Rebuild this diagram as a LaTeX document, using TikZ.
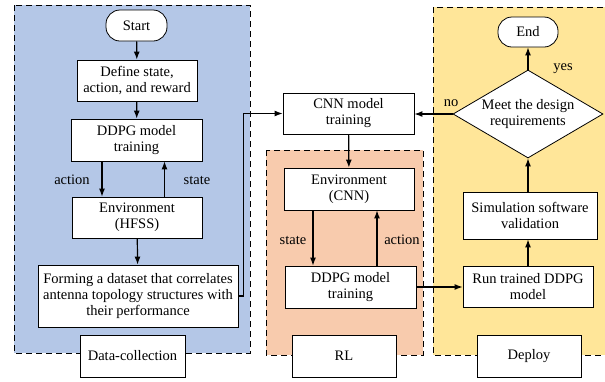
\documentclass[tikz,border=0pt]{standalone}
\usepackage{fontspec}
\setmainfont{Liberation Serif}
\usetikzlibrary{shapes.geometric,arrows.meta}
\definecolor{dcblue}{HTML}{B4C7E7}
\definecolor{rlorange}{HTML}{F8CBAD}
\definecolor{depyellow}{HTML}{FFE699}
\tikzset{
  region/.style={draw, dashed, dash pattern=on 6pt off 4pt, line width=1pt},
  proc/.style={draw, fill=white, line width=0.8pt, align=center, inner sep=0pt,
    font=\fontsize{14.5}{16}\selectfont},
  term/.style={proc, rounded corners=14pt},
  lbl/.style={font=\fontsize{14.5}{16}\selectfont},
  arr/.style={-{Latex[length=8pt,width=6pt]}, line width=1.2pt}
}
\begin{document}
\begin{tikzpicture}[x=1pt,y=-1pt]
\useasboundingbox (0,0) rectangle (605,381);
\clip (0,0) rectangle (605,381);
% stage regions
\fill[dcblue] (14,5) rectangle (250,353);
\draw[region] (14,5) rectangle (250,353);
\fill[rlorange] (266,150) rectangle (423,355);
\draw[region] (266,150) rectangle (423,355);
\fill[depyellow] (433,7) rectangle (615,355);
\draw[region] (433,7) rectangle (615,355);

% data collection
\node[term, minimum width=61pt, minimum height=31pt] (start) at (136.5,25.5) {Start};
\node[proc, minimum width=120pt, minimum height=41pt] (define) at (137,80.5) {Define state,\\action, and reward};
\node[proc, minimum width=131pt, minimum height=42pt] (ddpgA) at (136.5,140) {DDPG model\\training};
\node[proc, minimum width=130pt, minimum height=41pt] (envA) at (137,217.5) {Environment\\(HFSS)};
\node[proc, minimum width=200pt, minimum height=62pt] (dataset) at (138,296) {Forming a dataset that correlates\\antenna topology structures with\\their performance};
\node[proc, minimum width=105pt, minimum height=42pt] (dclabel) at (132.5,356) {Data-collection};

% RL
\node[proc, minimum width=131pt, minimum height=41pt] (cnn) at (348.5,113.5) {CNN model\\training};
\node[proc, minimum width=130pt, minimum height=42pt] (envB) at (349,189) {Environment\\(CNN)};
\node[proc, minimum width=131pt, minimum height=42pt] (ddpgB) at (350.5,287) {DDPG model\\training};
\node[proc, minimum width=104pt, minimum height=42pt] (rllabel) at (344,356) {RL};

% deploy
\node[term, minimum width=60pt, minimum height=30pt] (finish) at (528,32) {End};
\node[proc, diamond, aspect=1.7, minimum width=150pt, minimum height=88pt] (meet) at (528,114) {Meet the design\\requirements};
\node[proc, minimum width=134pt, minimum height=47pt] (simval) at (530,215.5) {Simulation software\\validation};
\node[proc, minimum width=130pt, minimum height=41pt] (runddpg) at (528,286.5) {Run trained DDPG\\model};
\node[proc, minimum width=104pt, minimum height=42pt] (deplabel) at (529,356) {Deploy};

% connectors
\draw[arr] (start) -- (define);
\draw[arr] (define) -- (ddpgA);
\draw[arr] ([xshift=-34.5pt]ddpgA.south) -- ([xshift=-34.5pt]ddpgA.south |- envA.north);
\draw[arr] ([xshift=27.5pt]envA.north) -- ([xshift=27.5pt]envA.north |- ddpgA.south);
\node[lbl] (actA) at (72,180) {action};
\node[lbl] (stA) at (197,180) {state};
\draw[arr] (envA) -- (dataset);
\draw[arr] (dataset.east) -- ++(5,0) |- (cnn.west);
\draw[arr] (cnn) -- (envB);
\draw[arr] ([xshift=-36pt]envB.south) -- ([xshift=-36pt]envB.south |- ddpgB.north);
\draw[arr] ([xshift=26.5pt]ddpgB.north) -- ([xshift=26.5pt]ddpgB.north |- envB.south);
\node[lbl] (stB) at (293,240) {state};
\node[lbl] (actB) at (402,240) {action};
\draw[arr] (ddpgB.east) -- (ddpgB.east -| runddpg.west);
\draw[arr] (runddpg.north -| meet) -- (simval.south -| meet);
\draw[arr] (simval.north -| meet) -- (meet.south);
\draw[arr] (meet.north) -- (finish.south);
\draw[arr] (meet.west) -- (meet.west -| cnn.east);
\node[lbl] (yes) at (563,69) {yes};
\node[lbl] (no) at (451,103) {no};
\end{tikzpicture}
\end{document}
